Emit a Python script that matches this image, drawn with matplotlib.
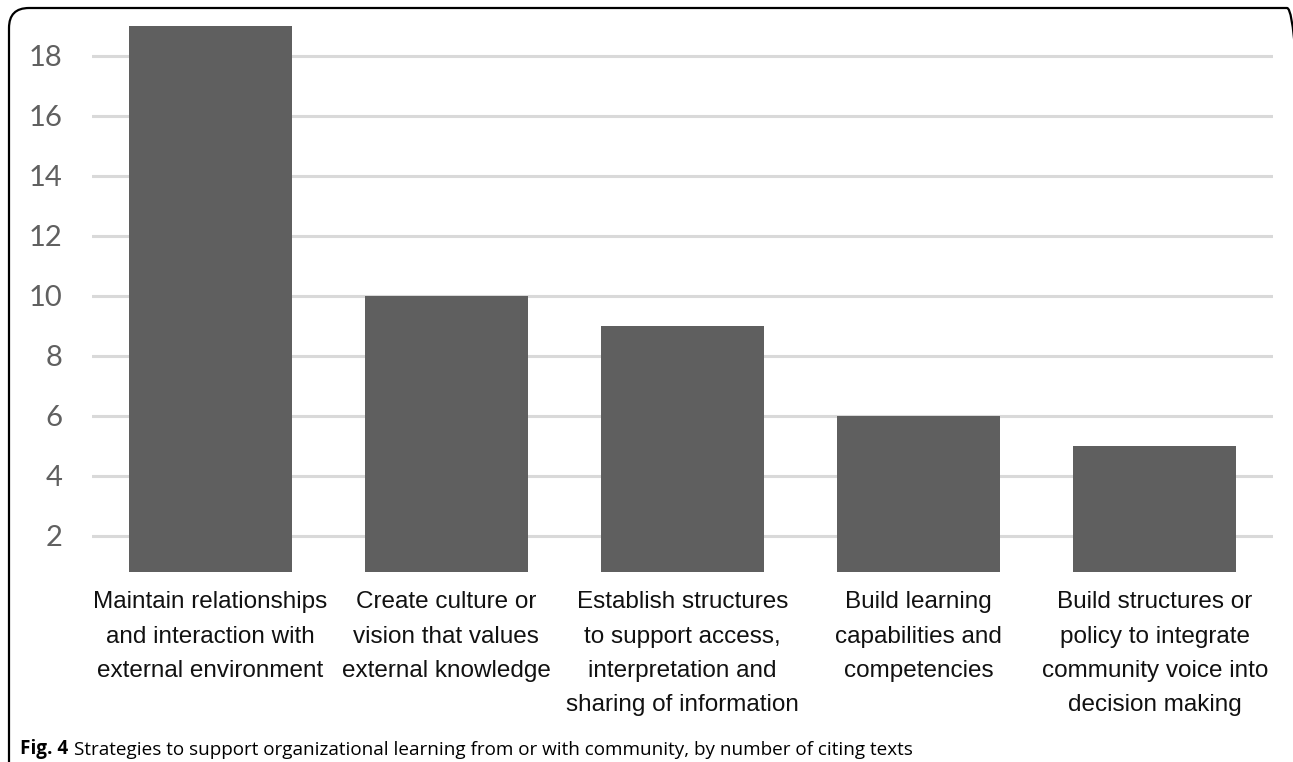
import matplotlib.pyplot as plt
import matplotlib.patches as patches

# number of citing texts per strategy
categories = [
    'Maintain relationships\nand interaction with\nexternal environment',
    'Create culture or\nvision that values\nexternal knowledge',
    'Establish structures\nto support access,\ninterpretation and\nsharing of information',
    'Build learning\ncapabilities and\ncompetencies',
    'Build structures or\npolicy to integrate\ncommunity voice into\ndecision making',
]
counts = [19, 10, 9, 6, 5]
yticks = [2, 4, 6, 8, 10, 12, 14, 16, 18]

W, H = 12.93, 7.62
fig = plt.figure(figsize=(W, H), dpi=100)
ax = fig.add_axes([92 / 1293, 1 - 572 / 762, (1273 - 92) / 1293, (572 - 20) / 762])

ax.bar(range(len(counts)), counts, width=0.69, color='#5f5f5f', zorder=3)
ax.set_xlim(-0.5, len(counts) - 0.5)
ax.set_ylim(0.8, 19.2)
ax.set_yticks(yticks)
ax.set_yticklabels([str(t) for t in yticks], family=['Lato', 'DejaVu Sans'],
                   fontsize=21, color='#606060')
ax.yaxis.grid(True, color='#d9d9d9', linewidth=2.2, zorder=0)
ax.tick_params(axis='y', length=0, pad=21)
ax.tick_params(axis='x', length=0, pad=14)
ax.set_xticks(range(len(counts)))
ax.set_xticklabels(categories, family=['Liberation Sans', 'DejaVu Sans'],
                   fontsize=17.5, color='#111111', linespacing=1.72, va='top')
for s in ax.spines.values():
    s.set_visible(False)

# caption
t1 = fig.text(20 / 1293, 1 - 754 / 762, 'Fig. 4', fontsize=13.6, fontweight='bold',
              family=['Open Sans', 'DejaVu Sans'], va='baseline', ha='left')
ax.annotate('Strategies to support organizational learning from or with community, by number of citing texts',
            xy=(1, 0), xycoords=t1, xytext=(4, 0), textcoords='offset points',
            fontsize=13.6, family=['Open Sans', 'DejaVu Sans'], va='bottom', ha='left',
            annotation_clip=False)

# page frame (rounded box, right and bottom run off the image)
frame = patches.FancyBboxPatch((0.09, -0.5), 12.98, H - 0.08 + 0.5,
                               boxstyle='round,pad=0,rounding_size=0.2',
                               transform=fig.dpi_scale_trans, fill=False,
                               edgecolor='black', linewidth=1.6)
fig.patches.append(frame)

fig.savefig('out.png', dpi=100)
